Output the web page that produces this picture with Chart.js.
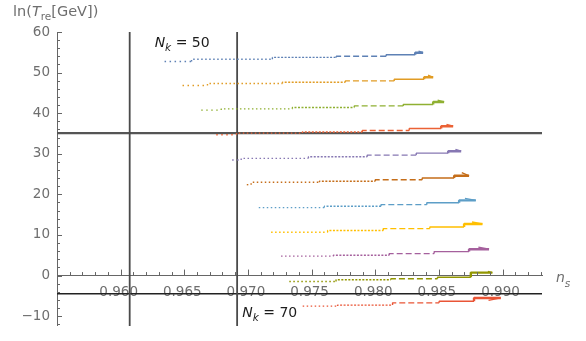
<!DOCTYPE html>
<html>
<head>
<meta charset="utf-8">
<script src="https://cdn.jsdelivr.net/npm/chart.js@4.4.1/dist/chart.umd.min.js"></script>
<style>
  body { margin: 0; background: #fff; }
</style>
</head>
<body>
<canvas id="chart" width="586" height="341"></canvas>
<script>
// Mathematica default palette, one colour per curve (top to bottom)
const curveColors = ['#5E81B5', '#E19C24', '#8FB032', '#EB6235', '#8778B3', '#C56E1A',
                     '#5D9EC7', '#FFBF00', '#A5609D', '#929600', '#E95536'];

// n_s where each plateau of a curve starts / ends (one more entry than plateaus)
const curveNs = [
  [0.96345, 0.96557, 0.97192, 0.97694, 0.98086, 0.98314, 0.98376],
  [0.96486, 0.96682, 0.97271, 0.97765, 0.98149, 0.98384, 0.98455],
  [0.96633, 0.96790, 0.97349, 0.97835, 0.98220, 0.98455, 0.98541],
  [0.96751, 0.96910, 0.97427, 0.97898, 0.98267, 0.98518, 0.98612],
  [0.96876, 0.96947, 0.97475, 0.97937, 0.98322, 0.98573, 0.98675],
  [0.96991, 0.97025, 0.97561, 0.98000, 0.98369, 0.98620, 0.98737],
  [0.97085, 0.97600, 0.98045, 0.98405, 0.98659, 0.98790],
  [0.97182, 0.97626, 0.98063, 0.98429, 0.98698, 0.98842],
  [0.97260, 0.97671, 0.98110, 0.98463, 0.98737, 0.98894],
  [0.97325, 0.97692, 0.98123, 0.98489, 0.98751, 0.98920],
  [0.97430, 0.97704, 0.98136, 0.98502, 0.98776, 0.98986]
];

// ln(T_re) of each plateau
const curveLnT = [
  [52.72, 53.30, 53.74, 54.03, 54.39, 54.90],
  [46.82, 47.31, 47.62, 47.96, 48.35, 48.84],
  [40.76, 41.07, 41.41, 41.80, 42.14, 42.77],
  [34.69, 35.10, 35.35, 35.73, 36.22, 36.80],
  [28.46, 28.87, 29.28, 29.67, 30.15, 30.64],
  [22.39, 22.97, 23.22, 23.60, 24.02, 24.58],
  [16.74, 17.06, 17.47, 17.95, 18.51],
  [10.67, 11.09, 11.57, 11.96, 12.69],
  [4.78, 5.02, 5.41, 5.90, 6.48],
  [-1.46, -1.04, -0.80, -0.41, 0.73],
  [-7.52, -7.28, -6.72, -6.31, -5.51]
];

// little curl at the end of every curve
const hookNs = [0.98340, 0.98415, 0.98490, 0.98560, 0.98630, 0.98680, 0.98705, 0.98760, 0.98810, 0.98885, 0.98890];
const hookLnT = [55.30, 49.35, 43.20, 37.25, 31.10, 25.35, 19.00, 13.20, 7.00, 1.00, -6.10];

// reference lines
const nkLineNs = [0.96071, 0.96915];
const refLineLnT = [35.1, -4.5];
const nkValues = ['50', '70'];

// axes
const nsRange = [0.955, 0.9931];
const lnTRange = [-12.4, 60];
const nsTicks = [0.960, 0.965, 0.970, 0.975, 0.980, 0.985, 0.990];
const lnTTicks = [-10, 0, 10, 20, 30, 40, 50, 60];

const dashFor = { sparse: [1.5, 3.5], dot: [1.5, 2.5], fine: [2, 1.5], dash: [6, 3], solid: [], thick: [], hook: [] };
const styleOrder = ['thick', 'solid', 'dash', 'fine', 'dot', 'sparse'];

function levelStyle(level, n) {
  if (level >= n) return 'hook';
  const fromEnd = n - 1 - level;
  return styleOrder[Math.min(fromEnd, styleOrder.length - 1)];
}

const datasets = [];

curveNs.forEach((xs, c) => {
  const ys = curveLnT[c];
  const pts = [];
  for (let i = 0; i < ys.length; i++) {
    pts.push({ x: xs[i], y: ys[i] });
    pts.push({ x: xs[i + 1], y: ys[i] });
  }
  pts.push({ x: hookNs[c], y: hookLnT[c] });
  const n = ys.length;
  const styleAt = ctx => levelStyle(Math.ceil(ctx.p0DataIndex / 2), n);
  datasets.push({
    data: pts,
    showLine: true,
    pointRadius: 0,
    borderColor: curveColors[c],
    borderWidth: 1.4,
    borderJoinStyle: 'bevel',
    order: 1,
    segment: {
      borderDash: ctx => dashFor[styleAt(ctx)],
      borderWidth: ctx => styleAt(ctx) === 'thick' ? 2.4 : 1.4
    }
  });
});

nkLineNs.forEach(v => {
  datasets.push({
    data: [{ x: v, y: lnTRange[0] }, { x: v, y: lnTRange[1] }],
    showLine: true, pointRadius: 0, borderColor: '#4a4a4a', borderWidth: 1.8, order: 2
  });
});
refLineLnT.forEach((v, i) => {
  datasets.push({
    data: [{ x: nsRange[0], y: v }, { x: nsRange[1], y: v }],
    showLine: true, pointRadius: 0, borderColor: i === 0 ? '#555' : '#222',
    borderWidth: i === 0 ? 2.2 : 1.5, order: 2
  });
});

const labelColor = '#6e6e6e';
const fontFam = '"DejaVu Sans", sans-serif';

const axisDecor = {
  id: 'axisDecor',
  afterDraw(chart) {
    const ctx = chart.ctx;
    const xs = chart.scales.x, ys = chart.scales.y;
    const left = chart.chartArea.left;
    const y0 = ys.getPixelForValue(0);
    ctx.save();
    ctx.strokeStyle = '#666';
    ctx.lineWidth = 1;
    ctx.beginPath();
    // x ticks point up from the axis
    for (let k = 956; k <= 993; k++) {
      const px = Math.round(xs.getPixelForValue(k / 1000)) + 0.5;
      const len = k % 5 === 0 ? 6 : 3.5;
      ctx.moveTo(px, y0);
      ctx.lineTo(px, y0 - len);
    }
    // y ticks point right from the axis
    for (let v = -12; v <= 60; v += 2) {
      const py = Math.round(ys.getPixelForValue(v)) + 0.5;
      const len = v % 10 === 0 ? 5 : 3;
      ctx.moveTo(left, py);
      ctx.lineTo(left + len, py);
    }
    ctx.stroke();

    // axis titles
    ctx.fillStyle = labelColor;
    ctx.textBaseline = 'alphabetic';
    let x = 13;
    const parts = [['ln(', 'normal', 14.5, 16], ['T', 'italic', 14.5, 16], ['re', 'normal', 10.5, 20], ['[GeV])', 'normal', 14.5, 16]];
    parts.forEach(([t, st, sz, by]) => {
      ctx.font = st + ' ' + sz + 'px ' + fontFam;
      ctx.fillText(t, x, by);
      x += ctx.measureText(t).width;
    });
    ctx.font = 'italic 14px ' + fontFam;
    ctx.fillText('n', 556, 282);
    const nw = ctx.measureText('n').width;
    ctx.font = 'italic 10.5px ' + fontFam;
    ctx.fillText('s', 556 + nw, 287);

    // N_k labels next to the vertical lines
    const anchors = [[0.96267, 56.3], [0.96955, -10.2]];
    ctx.fillStyle = '#1c1c1c';
    nkValues.forEach((val, i) => {
      let lx = xs.getPixelForValue(anchors[i][0]);
      const ly = ys.getPixelForValue(anchors[i][1]);
      ctx.font = 'italic 14px ' + fontFam;
      ctx.fillText('N', lx, ly);
      lx += ctx.measureText('N').width;
      ctx.font = 'italic 10.5px ' + fontFam;
      ctx.fillText('k', lx, ly + 4);
      lx += ctx.measureText('k').width;
      ctx.font = 'normal 14px ' + fontFam;
      ctx.fillText(' = ' + val, lx, ly);
    });
    ctx.restore();
  }
};

new Chart(document.getElementById('chart'), {
  type: 'scatter',
  data: { datasets: datasets },
  options: {
    responsive: false,
    animation: false,
    layout: { padding: { left: 0, right: 44, top: 32, bottom: 11 } },
    plugins: { legend: { display: false }, tooltip: { enabled: false } },
    scales: {
      x: {
        type: 'linear',
        position: { y: 0 },
        min: nsRange[0],
        max: nsRange[1],
        afterBuildTicks: s => { s.ticks = nsTicks.map(v => ({ value: v })); },
        grid: { display: false, drawTicks: false },
        border: { display: true, color: '#666', width: 1 },
        ticks: {
          color: labelColor,
          padding: 9,
          labelOffset: -2,
          maxRotation: 0,
          font: { family: fontFam, size: 13.5 },
          callback: v => v.toFixed(3)
        }
      },
      y: {
        type: 'linear',
        min: lnTRange[0],
        max: lnTRange[1],
        afterFit: s => { s.width = 57; },
        afterBuildTicks: s => { s.ticks = lnTTicks.map(v => ({ value: v })); },
        grid: { display: false, drawTicks: false },
        border: { display: true, color: '#666', width: 1 },
        ticks: {
          color: labelColor,
          padding: 7,
          font: { family: fontFam, size: 13.5 },
          callback: v => v < 0 ? '\u2212' + Math.abs(v) : String(v)
        }
      }
    }
  },
  plugins: [axisDecor]
});
</script>
</body>
</html>
